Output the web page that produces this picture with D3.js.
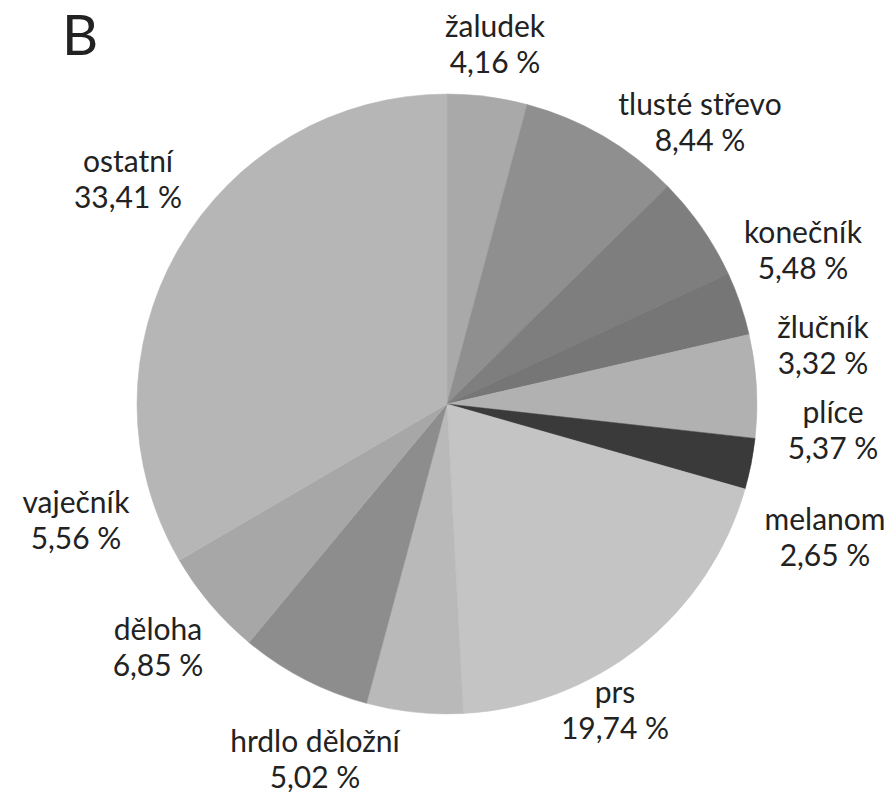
<!DOCTYPE html>
<html>
<head>
<meta charset="utf-8">
<script src="https://cdn.jsdelivr.net/npm/d3@7/dist/d3.min.js"></script>
<style>
  html, body { margin: 0; padding: 0; background: #fff; }
  svg { display: block; }
  text { font-family: Lato, "Noto Sans", sans-serif; fill: #222; }
</style>
</head>
<body>
<svg id="chart" width="894" height="794"></svg>
<script>
// Data
const categories = ["žaludek", "tlusté střevo", "konečník", "žlučník", "plíce", "melanom",
                    "prs", "hrdlo děložní", "děloha", "vaječník", "ostatní"];
const values = [4.16, 8.44, 5.48, 3.32, 5.37, 2.65, 19.74, 5.02, 6.85, 5.56, 33.41];
const valueLabels = ["4,16 %", "8,44 %", "5,48 %", "3,32 %", "5,37 %", "2,65 %",
                     "19,74 %", "5,02 %", "6,85 %", "5,56 %", "33,41 %"];

// Styles
const fills = ["#a9a9a9", "#8f8f8f", "#7e7e7e", "#767676", "#b1b1b1", "#3a3a3a",
               "#c4c4c4", "#b9b9b9", "#8d8d8d", "#a7a7a7", "#b6b6b6"];
// Label layout (center x, first baseline y)
const labelLayout = [[495, 37], [700, 115], [803, 243], [823, 338], [833, 423], [825, 530],
                     [615, 703], [315, 752], [158, 640], [76, 513], [128, 172]];

const svg = d3.select("#chart");
const cx = 447, cy = 404, r = 310;

const pie = d3.pie().sort(null).value(d => d.value);
const arc = d3.arc().innerRadius(0).outerRadius(r);
const data = categories.map((c, i) => ({ name: c, value: values[i], i }));

const g = svg.append("g").attr("transform", `translate(${cx},${cy})`);
g.selectAll("path")
  .data(pie(data))
  .join("path")
  .attr("d", arc)
  .attr("fill", d => fills[d.data.i])
  .attr("stroke", d => fills[d.data.i])
  .attr("stroke-width", 0.5);

const labels = svg.append("g").selectAll("text")
  .data(data)
  .join("text")
  .attr("text-anchor", "middle")
  .attr("font-size", 30);
labels.append("tspan")
  .attr("x", d => labelLayout[d.i][0])
  .attr("y", d => labelLayout[d.i][1])
  .text(d => d.name);
labels.append("tspan")
  .attr("x", d => labelLayout[d.i][0])
  .attr("y", d => labelLayout[d.i][1] + 36)
  .text(d => valueLabels[d.i]);

svg.append("text")
  .attr("x", 62).attr("y", 55)
  .attr("font-size", 56)
  .attr("font-family", "'Open Sans', sans-serif")
  .text("B");
</script>
</body>
</html>
